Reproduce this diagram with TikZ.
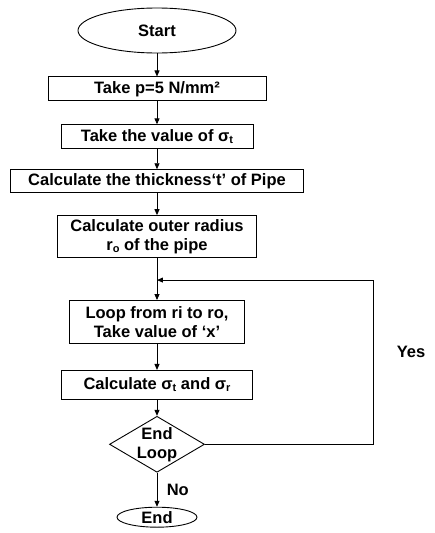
\documentclass[tikz,border=0pt]{standalone}
\usepackage{fontspec}
\setmainfont{Liberation Sans}
\usepackage{tikz}
\usetikzlibrary{arrows.meta, positioning, shapes.geometric}

\newcommand{\subtxt}[1]{\raisebox{-0.25ex}{\fontsize{11}{12}\selectfont #1}}

\tikzset{
  base/.style={draw, line width=0.9pt, font=\fontsize{16.5}{19}\selectfont\bfseries, align=center},
  process/.style={base, rectangle, minimum height=24pt, inner xsep=2pt, inner ysep=0.5pt},
  terminal/.style={base, ellipse, inner sep=0pt},
  decision/.style={base, diamond, aspect=1.7, minimum width=95pt, minimum height=56pt, inner sep=-4pt},
  tag/.style={font=\fontsize{16.5}{19}\selectfont\bfseries},
  flow/.style={-{Triangle[length=6pt,width=5pt]}, line width=0.9pt},
}

\begin{document}
\begin{tikzpicture}
			      \useasboundingbox (-157pt,30.5pt) rectangle (278pt,-502.5pt);

			      \node (start) [terminal, minimum width=158pt, minimum height=45pt] at (0,0) {Start};
			      \node (pres) [process, below=23pt of start, minimum width=218pt] {Take p=5 N/mm²};
			      \node (stress) [process, below=23pt of pres, minimum width=192pt] {Take the value of σ\subtxt{t}};
			      \node (thick) [process, below=20pt of stress, minimum width=293pt, minimum height=23pt] {Calculate the thickness‘t’ of Pipe};
			      \node (outer) [process, below=22pt of thick, minimum width=199pt, minimum height=42pt] {Calculate outer radius\\r\subtxt{o} of the pipe};
			      \node (loop) [process, below=42pt of outer, minimum width=175pt, minimum height=43pt] {Loop from ri to ro,\\Take value of ‘x’};
			      \node (calc) [process, below=26pt of loop, minimum width=191pt, minimum height=29pt] {Calculate σ\subtxt{t} and σ\subtxt{r}};
			      \node (check) [decision, below=16pt of calc] {End\\Loop};
			      \node (stop) [terminal, below=34pt of check, minimum width=80pt, minimum height=20pt] {End};

			      \coordinate [below=22pt of outer] (rejoin);
			      \coordinate [right=216pt of rejoin] (corner);

			      \path [flow]
			      (start) edge (pres)
			      (pres) edge (stress)
			      (stress) edge (thick)
			      (thick) edge (outer)
			      (outer) edge (loop)
			      (loop) edge (calc)
			      (calc) edge (check)
			      (check) edge node [tag, right=6pt] {No} (stop)
			      ;

			      \draw [flow] (check.east) -| node [tag, pos=0.78, right=20pt] {Yes} (corner) -- (rejoin);
		      \end{tikzpicture}
\end{document}
